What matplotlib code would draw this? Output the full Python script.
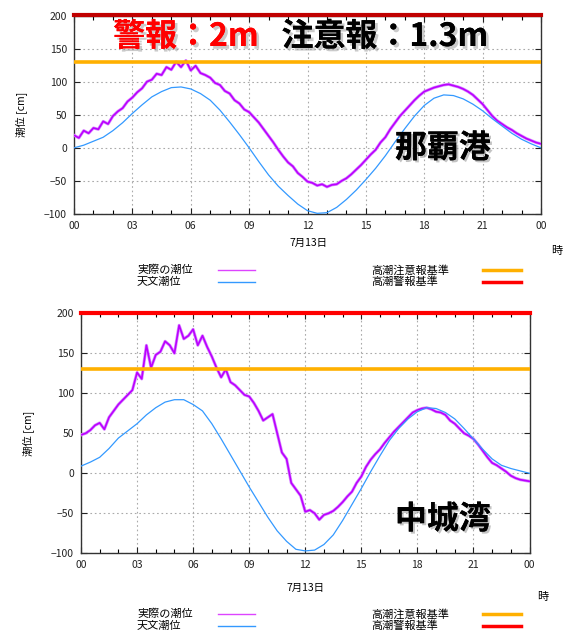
import numpy as np
import matplotlib
matplotlib.use('Agg')
import matplotlib.pyplot as plt
import matplotlib.patheffects as pe
from matplotlib.ticker import MultipleLocator

plt.rcParams['font.family'] = ['Noto Sans CJK JP', 'DejaVu Sans']

# observed tide, every 15 min from 00:00 to 24:00 (cm)
naha_obs = [19, 15, 26, 22, 30, 28, 40, 36, 48, 55, 60, 70, 76, 84, 90, 100,
            103, 112, 110, 122, 118, 130, 122, 132, 117, 124, 113, 110, 106, 98, 95, 86,
            82, 72, 67, 58, 54, 46, 38, 28, 18, 8, -3, -13, -22, -28, -38, -44,
            -51, -53, -57, -55, -59, -56, -55, -50, -46, -40, -33, -26, -18, -10, -3, 8,
            16, 28, 38, 48, 56, 64, 72, 79, 85, 88, 91, 93, 95, 96, 94, 92,
            89, 85, 80, 73, 66, 57, 48, 41, 36, 31, 27, 22, 18, 14, 11, 8, 6]
nakagusuku_obs = [48, 50, 54, 60, 63, 55, 70, 78, 86, 92, 98, 104, 126, 118, 160, 132,
                  148, 152, 165, 160, 150, 185, 168, 172, 180, 160, 172, 158, 146, 132, 120, 130,
                  114, 110, 104, 98, 96, 88, 78, 66, 70, 74, 50, 26, 18, -12, -20, -28,
                  -48, -46, -50, -58, -52, -50, -47, -42, -36, -29, -23, -12, -4, 8, 17, 24,
                  30, 38, 45, 52, 58, 64, 70, 76, 79, 81, 82, 80, 77, 76, 73, 66,
                  62, 56, 50, 47, 43, 36, 28, 20, 13, 10, 6, 2, -3, -6, -8, -9, -10]

# astronomical tide, every 30 min (cm)
naha_astro = [0, 4, 10, 16, 26, 38, 52, 65, 77, 85, 91, 92, 89, 82, 72, 57,
              39, 20, 0, -21, -41, -58, -72, -85, -95, -99, -98, -90, -78, -64, -48, -31,
              -12, 9, 29, 48, 64, 75, 80, 79, 74, 66, 56, 44, 33, 22, 13, 6, 0]
nakagusuku_astro = [9, 14, 20, 31, 44, 53, 62, 73, 82, 89, 92, 92, 86, 78, 62, 43,
                    23, 3, -17, -36, -55, -72, -85, -95, -97, -96, -89, -77, -59, -39, -19, 2,
                    22, 41, 56, 68, 77, 82, 81, 76, 68, 56, 43, 30, 18, 10, 6, 3, 0]

caution_level = 130
warning_level = 200
hour_labels = ['00', '03', '06', '09', '12', '15', '18', '21', '00']
station_names = ['那覇港', '中城湾']

W, H = 574, 633
fig = plt.figure(figsize=(W / 100, H / 100), dpi=100)
fig.patch.set_facecolor('white')


def px_axes(l, t, r, b):
    return fig.add_axes([l / W, 1 - b / H, (r - l) / W, (b - t) / H])


def draw_panel(ax, obs, astro, name, name_x, name_y, warn_color):
    t_obs = np.arange(len(obs)) / 4
    t_ast = np.arange(len(astro)) / 2
    ax.plot(t_obs, obs, color='#d98cff', lw=2.2, zorder=3)
    ax.plot(t_obs, obs, color='#bb00ff', lw=1.2, zorder=4)
    ax.plot(t_ast, astro, color='#3399ff', lw=0.9, zorder=5)
    ax.axhline(caution_level, color='#ffb000', lw=2.6, zorder=6)
    ax.axhline(warning_level, color=warn_color, lw=3, zorder=6, clip_on=False)
    ax.set_xlim(0, 24)
    ax.set_ylim(-100, 200)
    ax.xaxis.set_minor_locator(MultipleLocator(1))
    ax.yaxis.set_major_locator(MultipleLocator(50))
    ax.set_xticks(np.arange(0, 25, 3))
    ax.set_xticklabels(hour_labels)
    ax.tick_params(direction='in', top=True, right=True, labelsize=7.5,
                   length=4, width=0.8, colors='#222222', pad=5)
    ax.tick_params(which='minor', direction='in', top=True, length=3, width=0.8)
    ax.grid(True, which='major', color='#aaaaaa', ls=(0, (1.5, 2.5)), lw=0.8)
    for s in ax.spines.values():
        s.set_color('#333333')
        s.set_linewidth(1.0)
    ax.set_ylabel('潮位 [cm]', fontsize=7.5, labelpad=12)
    ax.text(name_x, name_y, name, transform=ax.transAxes, fontsize=23,
            fontweight='bold', ha='center', va='center', zorder=10,
            path_effects=[pe.withSimplePatchShadow(offset=(1.5, -1.5),
                                                   shadow_rgbFace='#888888', alpha=0.5),
                          pe.Normal()])


def draw_legend(y, gap=12):
    fig.text(137 / W, 1 - y / H, '実際の潮位', fontsize=8, va='center')
    fig.text(137 / W, 1 - (y + gap) / H, '天文潮位', fontsize=8, va='center')
    fig.text(371 / W, 1 - y / H, '高潮注意報基準', fontsize=8, va='center')
    fig.text(371 / W, 1 - (y + gap) / H, '高潮警報基準', fontsize=8, va='center')
    for x0, x1, yy, c, lw in [(218, 255, y, '#dd44ff', 1.0), (218, 255, y + gap, '#3399ff', 1.0),
                              (483, 521, y, '#ffb000', 2.5), (483, 521, y + gap, '#ff0000', 2.5)]:
        fig.add_artist(plt.Line2D([x0 / W, x1 / W], [1 - yy / H, 1 - yy / H],
                                  color=c, lw=lw))


ax1 = px_axes(74, 15.5, 541, 214)
draw_panel(ax1, naha_obs, naha_astro, station_names[0], 0.79, 0.33, '#c00000')
fig.text(308 / W, 1 - 243 / H, '7月13日', fontsize=7.5, ha='center', va='center')
fig.text(557 / W, 1 - 251 / H, '時', fontsize=8, ha='center', va='center')
draw_legend(270)

ax2 = px_axes(81, 313.3, 529.5, 553.3)
draw_panel(ax2, nakagusuku_obs, nakagusuku_astro, station_names[1], 0.807, 0.14, '#ff0000')
fig.text(305 / W, 1 - 588 / H, '7月13日', fontsize=7.5, ha='center', va='center')
fig.text(543 / W, 1 - 597 / H, '時', fontsize=8, ha='center', va='center')
draw_legend(614)

shadow = [pe.withSimplePatchShadow(offset=(2, -2), shadow_rgbFace='#999999', alpha=0.5),
          pe.Normal()]
fig.text(186 / W, 1 - 37 / H, '警報：2m', fontsize=23, fontweight='bold', color='#ff0000',
         ha='center', va='center', path_effects=shadow)
fig.text(385 / W, 1 - 37 / H, '注意報：1.3m', fontsize=23, fontweight='bold', color='black',
         ha='center', va='center', path_effects=shadow)

fig.savefig('out.png', dpi=100)
